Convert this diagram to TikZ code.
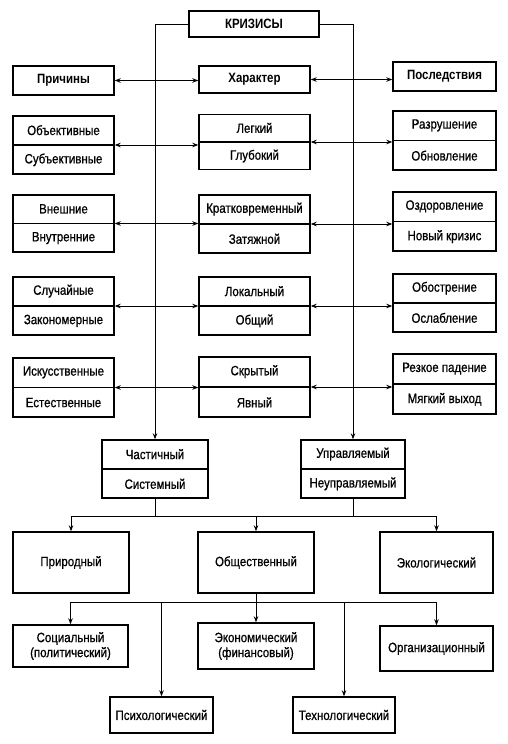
\documentclass[tikz,border=0pt]{standalone}
\usepackage{fontspec}
\setmainfont[FakeStretch=0.85, UprightFeatures={FakeBold=0.8}]{Liberation Sans}
\usetikzlibrary{arrows.meta,calc}
\tikzset{
 box/.style={draw, line width=1.4pt, inner sep=0pt, align=center, font=\fontsize{13.5}{15}\selectfont},
 txt/.style={inner sep=0pt, font=\fontsize{13.5}{15}\selectfont},
 conn/.style={line width=0.9pt},
 arr/.style={conn, -{Stealth[length=6pt,width=4.5pt]}},
 darr/.style={conn, {Stealth[length=6pt,width=4.5pt]}-{Stealth[length=6pt,width=4.5pt]}},
}
% name, cx, cy, w, h, text
\newcommand\onebox[6]{%
 \node[box, minimum width=#4pt, minimum height=#5pt] (#1) at (#2,#3) {#6};}
% name, cx, cy, w, h, top text, bottom text
\newcommand\pbox[7]{%
 \node[box, minimum width=#4pt, minimum height=#5pt] (#1) at (#2,#3) {};
 \draw[line width=1.4pt] (#1.west) -- (#1.east);
 \node[txt] (#1-a) at ($(#1.north)!0.5!(#1.center)$) {#6};
 \node[txt] (#1-b) at ($(#1.south)!0.5!(#1.center)$) {#7};}
\begin{document}
\begin{tikzpicture}[x=1pt,y=-1pt]
\useasboundingbox (0,0) rectangle (508,744);
\onebox{kr}{254}{24}{130}{26}{\bfseries КРИЗИСЫ}
\onebox{pr}{63.5}{80.5}{101}{29}{\bfseries Причины}
\onebox{ha}{254.5}{79.5}{111}{27}{\bfseries Характер}
\onebox{po}{444.5}{76.5}{103}{29}{\bfseries Последствия}

\pbox{l1}{63.5}{145}{101}{58}{Объективные}{Субъективные}
\pbox{m1}{254.5}{142}{111}{55}{Легкий}{Глубокий}
\pbox{r1}{444.5}{140.5}{103}{59}{Разрушение}{Обновление}

\pbox{l2}{63.5}{223.5}{101}{57}{Внешние}{Внутренние}
\pbox{m2}{254.5}{224}{111}{58}{Кратковременный}{Затяжной}
\pbox{r2}{444.5}{221.5}{103}{59}{Оздоровление}{Новый кризис}

\pbox{l3}{63.5}{306}{101}{58}{Случайные}{Закономерные}
\pbox{m3}{254.5}{306}{111}{58}{Локальный}{Общий}
\pbox{r3}{444.5}{303}{103}{58}{Обострение}{Ослабление}

\pbox{l4}{63.5}{387.5}{101}{59}{Искусственные}{Естественные}
\pbox{m4}{254.5}{387}{111}{60}{Скрытый}{Явный}
\pbox{r4}{444.5}{384}{103}{60}{Резкое падение}{Мягкий выход}

\pbox{ch}{155}{469}{106}{58}{Частичный}{Системный}
\pbox{up}{353}{469}{104}{58}{Управляемый}{Неуправляемый}

\onebox{pd}{71}{562.5}{116}{61}{Природный}
\onebox{ob}{256}{562.5}{116}{61}{Общественный}
\onebox{ek}{436.5}{562.5}{113}{61}{Экологический}

\onebox{so}{70.5}{646}{115}{42}{Социальный\\(политический)}
\onebox{ec}{256}{646}{116}{46}{Экономический\\(финансовый)}
\onebox{org}{436.5}{648.5}{113}{45}{Организационный}

\onebox{ps}{161.5}{715}{103}{36}{Психологический}
\onebox{te}{344}{715}{102}{36}{Технологический}

% horizontal double arrows
\draw[darr] (pr.east) -- (pr.east -| ha.west);
\draw[darr] (ha.east) -- (ha.east -| po.west);
\foreach \i in {1,...,4} {
 \draw[darr] (l\i.east) -- (l\i.east -| m\i.west);
 \draw[darr] (m\i.east) -- (m\i.east -| r\i.west);
}
% long verticals
\draw[arr] (kr.west) -| (ch.north);
\draw[arr] (kr.east) -| (up.north);
% first bus
\coordinate (b1) at (155,516);
\coordinate (b2) at (353,516);
\draw[conn] (ch.south) -- (b1);
\draw[conn] (up.south) -- (b2);
\draw[conn] (b1) -- (b2);
\draw[arr] (b1) -| (pd.north);
\draw[arr] (b2) -| (ek.north);
\draw[arr] (b1 -| ob.north) -- (ob.north);
% second bus
\coordinate (c0) at (256,602);
\draw[conn] (ob.south) -- (c0);
\draw[arr] (c0) -| (so.north);
\draw[arr] (c0) -| (org.north);
\draw[arr] (c0) -- (ec.north);
\draw[arr] (c0 -| ps.north) -- (ps.north);
\draw[arr] (c0 -| te.north) -- (te.north);
\end{tikzpicture}
\end{document}
